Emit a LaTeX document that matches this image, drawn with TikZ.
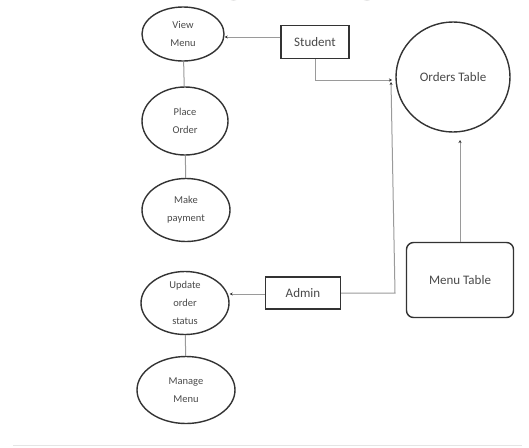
\documentclass[tikz,border=0pt]{standalone}
\usepackage{fontspec}
\setmainfont{Carlito}
\usetikzlibrary{arrows.meta,shapes.geometric}
\definecolor{edgegray}{HTML}{9A9A9A}
\definecolor{bordergray}{HTML}{333333}
\definecolor{txtgray}{HTML}{4A4A4A}
\tikzset{
  proc/.style={ellipse,draw=bordergray,line width=1.4pt,text=txtgray,
    font=\fontsize{10.5}{18}\selectfont,align=center,inner sep=0pt},
  entity/.style={rectangle,draw=bordergray,line width=1.4pt,text=txtgray,
    font=\fontsize{13}{15}\selectfont,inner sep=0pt},
  store/.style={rectangle,rounded corners=7pt,draw=bordergray,line width=1.4pt,text=txtgray,
    font=\fontsize{13}{15}\selectfont,inner sep=0pt},
  flow/.style={draw=edgegray,line width=1pt},
  arrowflow/.style={flow,-{Stealth[length=3pt,width=3pt,color=bordergray]}}
}
\begin{document}
\begin{tikzpicture}[x=1pt,y=-1pt]
\useasboundingbox (0,0) rectangle (529,447);
\fill[white] (0,0) rectangle (529,447);
% clipped title
\begin{scope}
\clip (0,0) rectangle (529,447);
\node[text=black!40,font=\fontsize{40}{40}\selectfont\bfseries,anchor=base,inner sep=0pt] (title) at (275,1) {DATA FLOW DIAGRAM};
\end{scope}
% processes
\node[proc,minimum width=82pt,minimum height=54pt] (view) at (183,34) {View\\Menu};
\node[proc,minimum width=86pt,minimum height=68pt] (place) at (185,121) {Place\\Order};
\node[proc,minimum width=88pt,minimum height=63pt] (pay) at (186,210) {Make\\payment};
\node[proc,minimum width=88pt,minimum height=63pt] (update) at (185,303) {Update\\order\\status};
\node[proc,minimum width=98pt,minimum height=67pt] (manage) at (186,390) {Manage\\Menu};
% entities
\node[entity,minimum width=68pt,minimum height=33pt] (student) at (315,42) {Student};
\node[entity,minimum width=75pt,minimum height=32pt] (admin) at (303,293) {Admin};
% stores
\node[proc,font=\fontsize{13}{15}\selectfont,minimum width=114pt,minimum height=110pt] (orders) at (453,77) {Orders Table};
\node[store,minimum width=107pt,minimum height=75pt] (menu) at (460,280) {Menu Table};
% connectors
\draw[arrowflow] (student.west |- 0,37) -- (view.east |- 0,37);
\draw[flow] (view) -- (place);
\draw[flow] (place) -- (pay);
\draw[flow] (update) -- (manage);
\draw[arrowflow] (admin.west |- 0,294) -- (update.east |- 0,294);
\coordinate (sj) at (315,80);
\draw[arrowflow] (student.south) -- (sj) -- (392,80);
\coordinate (aj) at (395,293);
\draw[arrowflow] (admin.east) -- (aj) -- (391,82);
\draw[arrowflow] (menu.north) -- (460,140);
% bottom rule
\draw[black!10,line width=1pt] (13,445.5) -- (522,445.5);
\end{tikzpicture}
\end{document}
